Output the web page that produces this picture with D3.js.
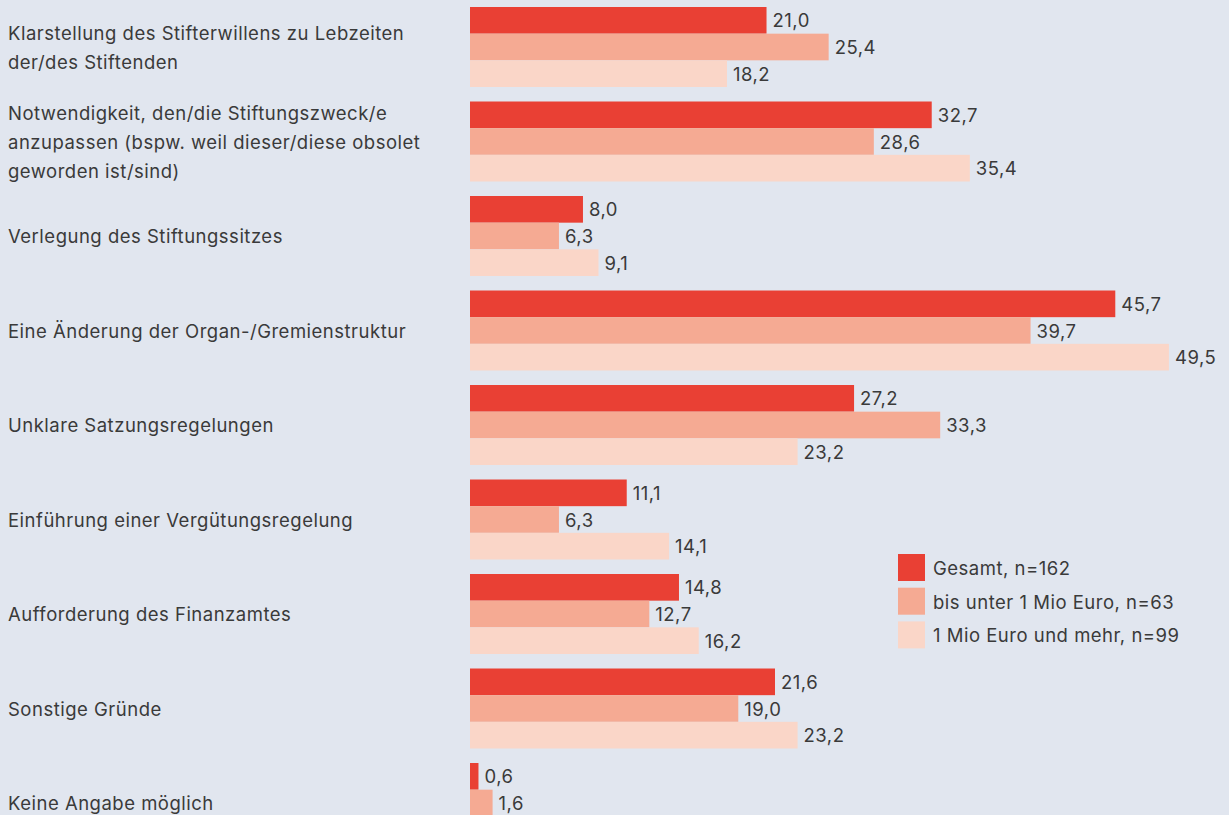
<!DOCTYPE html>
<html>
<head>
<meta charset="utf-8">
<script src="https://cdn.jsdelivr.net/npm/d3@7"></script>
<style>
  html, body { margin: 0; padding: 0; background: #e1e6ef; overflow: hidden; }
  svg { display: block; font-family: Inter, "Open Sans", sans-serif; }
</style>
</head>
<body>
<svg id="chart"></svg>
<script>
// categories (line breaks as in the original)
const categories = [
    ["Klarstellung des Stifterwillens zu Lebzeiten", "der/des Stiftenden"],
    ["Notwendigkeit, den/die Stiftungszweck/e", "anzupassen (bspw. weil dieser/diese obsolet", "geworden ist/sind)"],
    ["Verlegung des Stiftungssitzes"],
    ["Eine Änderung der Organ-/Gremienstruktur"],
    ["Unklare Satzungsregelungen"],
    ["Einführung einer Vergütungsregelung"],
    ["Aufforderung des Finanzamtes"],
    ["Sonstige Gründe"],
    ["Keine Angabe möglich"]
]

const seriesNames = ["Gesamt, n=162", "bis unter 1 Mio Euro, n=63", "1 Mio Euro und mehr, n=99"]
const gesamt = [21.0, 32.7, 8.0, 45.7, 27.2, 11.1, 14.8, 21.6, 0.6]
const unter1Mio = [25.4, 28.6, 6.3, 39.7, 33.3, 6.3, 12.7, 19.0, 1.6]
const ab1Mio = [18.2, 35.4, 9.1, 49.5, 23.2, 14.1, 16.2, 23.2, 0.0]
const colors = ["#e94034", "#f5aa93", "#fad6c8"]

const width = 1229
const height = 815
const margins = {left: 470, top: 7}
const step = 94.5
const groupHeight = 80

const svg = d3.select("#chart").attr("width", width).attr("height", height)

const seriesValues = [gesamt, unter1Mio, ab1Mio]
const rows = categories.map((c, i) => ({idx: i, label: c, values: seriesValues.map(s => s[i])}))

const scaleX = d3.scaleLinear().domain([0, 50]).range([margins.left, margins.left + 706])
const scaleY = d3.scaleLinear().domain([0, 1]).range([margins.top, margins.top + step])
const scaleSub = d3.scaleBand().domain(d3.range(3)).range([0, groupHeight])

const fmt = v => d3.format(".1f")(v).replace(".", ",")

const textStyle = sel => sel
    .attr("fill", "#3a3a3a")
    .attr("font-size", 18.5)
    .attr("letter-spacing", 0.5)

// category labels
const labels = svg.append("g").attr("id", "labels")
labels.selectAll("text")
    .data(rows)
    .join("text")
    .attr("x", 8)
    .attr("y", d => scaleY(d.idx) + groupHeight / 2 - (d.label.length - 1) * 29 / 2)
    .attr("dominant-baseline", "central")
    .call(textStyle)
    .selectAll("tspan")
    .data(d => d.label)
    .join("tspan")
    .attr("x", 8)
    .attr("dy", (d, i) => i === 0 ? 0 : 29)
    .text(d => d)

// bars
const groups = svg.append("g").attr("id", "bars")
    .selectAll("g")
    .data(rows)
    .join("g")
    .attr("transform", d => `translate(0, ${scaleY(d.idx)})`)

groups.selectAll("rect")
    .data(d => d.values)
    .join("rect")
    .attr("x", scaleX(0))
    .attr("y", (d, i) => scaleSub(i))
    .attr("width", d => scaleX(d) - scaleX(0))
    .attr("height", scaleSub.bandwidth())
    .attr("fill", (d, i) => colors[i])

groups.selectAll("text")
    .data(d => d.values)
    .join("text")
    .attr("x", d => scaleX(d) + 6)
    .attr("y", (d, i) => scaleSub(i) + scaleSub.bandwidth() / 2)
    .attr("dominant-baseline", "central")
    .call(textStyle)
    .text(d => fmt(d))

// legend
const legend = svg.append("g").attr("id", "legend").attr("transform", "translate(898, 554)")
const legendItems = legend.selectAll("g")
    .data(seriesNames)
    .join("g")
    .attr("transform", (d, i) => `translate(0, ${i * 33.7})`)
legendItems.append("rect")
    .attr("width", 27)
    .attr("height", 27)
    .attr("fill", (d, i) => colors[i])
legendItems.append("text")
    .attr("x", 35)
    .attr("y", 14)
    .attr("dominant-baseline", "central")
    .call(textStyle)
    .text(d => d)
</script>
</body>
</html>
